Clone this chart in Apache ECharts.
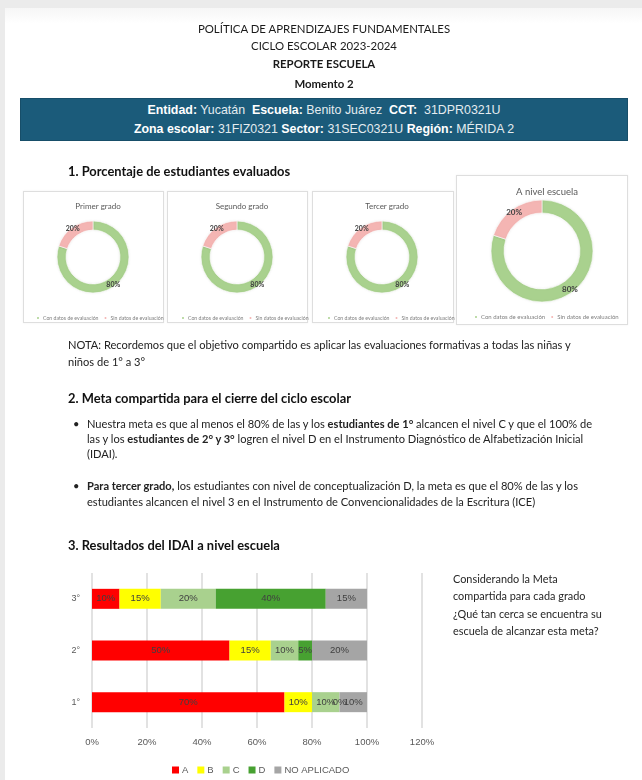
<!DOCTYPE html>
<html><head><meta charset="utf-8">
<script src="https://cdn.jsdelivr.net/npm/echarts@6/dist/echarts.min.js"></script>
<style>
html,body{margin:0;padding:0;}
body{width:642px;height:780px;overflow:hidden;background:#fff;position:relative;font-family:Lato,"Open Sans",sans-serif;color:#222;}
#topband{position:absolute;left:0;top:0;width:642px;height:8px;background:#ebebeb;}
#topfade{position:absolute;left:0;top:8px;width:642px;height:16px;background:linear-gradient(#f6f6f6,#fff);}
#leftstrip{position:absolute;left:0;top:0;width:5px;height:780px;background:#ebebeb;}
.hdr{position:absolute;left:20px;width:608px;text-align:center;font-size:11.4px;line-height:14px;color:#1a1a1a;}
#banner{position:absolute;left:20px;top:98px;width:608px;height:43px;background:#1b5b7a;box-sizing:border-box;border:1px solid #174e69;}
.bl{position:absolute;left:0;width:606px;text-align:center;font-family:"Liberation Sans",Arial,sans-serif;font-size:12.4px;line-height:14px;color:#e4ecf0;}
.bl b{color:#fff;}
.h{position:absolute;left:68px;font-weight:bold;font-size:12.9px;line-height:16px;color:#111;white-space:nowrap;}
.p{position:absolute;font-size:11.1px;line-height:14px;color:#222;white-space:nowrap;}
.box{position:absolute;border:1px solid #dedede;box-shadow:0 0 2px rgba(0,0,0,0.06);background:#fff;}
#chart{position:absolute;left:0;top:0;width:642px;height:780px;z-index:1;}
.txt{z-index:2;}
</style></head><body>
<div id="topband"></div><div id="topfade"></div><div id="leftstrip"></div>

<div class="hdr txt" style="top:22px;">POLÍTICA DE APRENDIZAJES FUNDAMENTALES</div>
<div class="hdr txt" style="top:39px;">CICLO ESCOLAR 2023-2024</div>
<div class="hdr txt" style="top:57px;font-weight:bold;">REPORTE ESCUELA</div>
<div class="hdr txt" style="top:77px;font-weight:bold;">Momento 2</div>

<div id="banner" class="txt">
  <div class="bl" style="top:4px;"><b>Entidad:</b> Yucatán&nbsp; <b>Escuela:</b> Benito Juárez&nbsp; <b>CCT:</b>&nbsp; 31DPR0321U</div>
  <div class="bl" style="top:23px;"><b>Zona escolar:</b> 31FIZ0321 <b>Sector:</b> 31SEC0321U <b>Región:</b> MÉRIDA 2</div>
</div>

<div class="h txt" style="top:163px;">1. Porcentaje de estudiantes evaluados</div>

<div class="box" style="left:23px;top:191px;width:139px;height:130px;"></div>
<div class="box" style="left:167px;top:191px;width:139px;height:130px;"></div>
<div class="box" style="left:312px;top:191px;width:140px;height:130px;"></div>
<div class="box" style="left:456px;top:175px;width:170px;height:148px;"></div>

<div class="p txt" style="left:68px;top:338px;">NOTA: Recordemos que el objetivo compartido es aplicar las evaluaciones formativas a todas las niñas y</div>
<div class="p txt" style="left:68px;top:355px;">niños de 1° a 3°</div>

<div class="h txt" style="top:390px;">2. Meta compartida para el cierre del ciclo escolar</div>

<div class="p txt" style="left:73px;top:417px;">•</div>
<div class="p txt" style="left:87px;top:417px;">Nuestra meta es que al menos el 80% de las y los <b>estudiantes de 1°</b> alcancen el nivel C y que el 100% de</div>
<div class="p txt" style="left:87px;top:432px;">las y los <b>estudiantes de 2° y 3°</b> logren el nivel D en el Instrumento Diagnóstico de Alfabetización Inicial</div>
<div class="p txt" style="left:87px;top:447px;">(IDAI).</div>

<div class="p txt" style="left:73px;top:479px;">•</div>
<div class="p txt" style="left:87px;top:479px;"><b>Para tercer grado,</b> los estudiantes con nivel de conceptualización D, la meta es que el 80% de las y los</div>
<div class="p txt" style="left:87px;top:495px;">estudiantes alcancen el nivel 3 en el Instrumento de Convencionalidades de la Escritura (ICE)</div>

<div class="h txt" style="top:537px;">3. Resultados del IDAI a nivel escuela</div>

<div class="p txt" style="left:453px;top:570px;font-size:10.9px;line-height:17.3px;color:#262626;">Considerando la Meta<br>compartida para cada grado<br>¿Qué tan cerca se encuentra su<br>escuela de alcanzar esta meta?</div>

<div id="chart"></div>
<script>
// ---- data ----
var categories = ['1°', '2°', '3°'];
var seriesNames = ['A', 'B', 'C', 'D', 'NO APLICADO'];
var valA = [70, 50, 10];
var valB = [10, 15, 15];
var valC = [10, 10, 20];
var valD = [0, 5, 40];
var valNA = [10, 20, 15];
var xMin = 0, xMax = 120, xInterval = 20;

var pieTitles = ['Primer grado', 'Segundo grado', 'Tercer grado', 'A nivel escuela'];
var pieNames = ['Con datos de evaluación', 'Sin datos de evaluación'];
var conDatos = [80, 80, 80, 80];
var sinDatos = [20, 20, 20, 20];

// ---- layout / style ----
var barColors = ['#ff0000', '#ffff00', '#a9d18e', '#47a131', '#a5a5a5'];
var pieColors = ['#a9d18e', '#f4b5b3'];
var pieLayout = [
  {c: [93, 257], r: [27, 36], titleY: 197, titleSize: 8, legX: 30, legY: 310, legSize: 5.2},
  {c: [237, 257], r: [27, 36], titleY: 197, titleSize: 8, legX: 175, legY: 310, legSize: 5.2},
  {c: [382, 257], r: [27, 36], titleY: 197, titleSize: 8, legX: 321, legY: 310, legSize: 5.2},
  {c: [542, 251], r: [38, 51], titleY: 182, titleSize: 9.5, legX: 468, legY: 309, legSize: 6}
];

var chart = echarts.init(document.getElementById('chart'), null, {renderer: 'canvas'});

var titles = [], legends = [], series = [];
pieTitles.forEach(function (t, i) {
  var L = pieLayout[i];
  titles.push({
    text: t, left: L.c[0], top: L.titleY, textAlign: 'center',
    textStyle: {fontFamily: 'Lato', fontSize: L.titleSize, fontWeight: 'normal', color: '#595959'}
  });
  legends.push({
    data: pieNames.map(function (n, j) { return {name: n, itemStyle: {color: pieColors[j]}}; }),
    left: L.legX, top: L.legY, orient: 'horizontal',
    icon: 'circle', itemWidth: 4, itemHeight: 4, itemGap: 4,
    selectedMode: false,
    textStyle: {fontFamily: 'Lato', fontSize: L.legSize, color: '#7f7f7f', padding: [0, 0, 0, -2]}
  });
  series.push({
    type: 'pie', center: L.c, radius: L.r, startAngle: 90, clockwise: true,
    silent: true, animation: false,
    color: pieColors,
    itemStyle: {borderColor: '#fff', borderWidth: 0.6, shadowBlur: 3, shadowColor: 'rgba(0,0,0,0.08)'},
    label: {show: true, position: 'inside', formatter: '{c}%', fontFamily: 'Lato',
      fontSize: i === 3 ? 8 : 7, fontWeight: 'bold', color: '#404040'},
    labelLine: {show: false},
    data: [
      {name: pieNames[0], value: conDatos[i]},
      {name: pieNames[1], value: sinDatos[i]}
    ]
  });
});

legends.push({
  data: seriesNames, left: 167, top: 760, orient: 'horizontal',
  icon: 'rect', itemWidth: 7, itemHeight: 7, itemGap: 9, selectedMode: false,
  textStyle: {fontFamily: 'Liberation Sans', fontSize: 9.5, color: '#595959', padding: [0, 0, 0, -2]}
});

var barVals = [valA, valB, valC, valD, valNA];
seriesNames.forEach(function (n, k) {
  series.push({
    type: 'bar', name: n, stack: 'total', data: barVals[k],
    xAxisIndex: 0, yAxisIndex: 0, barWidth: 20, animation: false,
    itemStyle: {color: barColors[k]},
    label: {show: true, position: 'inside', formatter: '{c}%', fontFamily: 'Liberation Sans',
      fontSize: 9.5, color: '#404040'}
  });
});

chart.setOption({
  animation: false,
  title: titles,
  legend: legends,
  grid: {left: 92, right: 220, top: 573, bottom: 52, containLabel: false},
  xAxis: {
    type: 'value', min: xMin, max: xMax, interval: xInterval,
    axisLabel: {formatter: '{value}%', color: '#595959', fontFamily: 'Liberation Sans', fontSize: 9.5, margin: 9},
    axisLine: {show: false}, axisTick: {show: false},
    splitLine: {show: true, lineStyle: {color: '#d9d9d9', width: 1.5}}
  },
  yAxis: {
    type: 'category', data: categories,
    axisLabel: {color: '#595959', fontFamily: 'Liberation Sans', fontSize: 9, margin: 12},
    axisLine: {show: false}, axisTick: {show: false}
  },
  series: series
});
</script>
</body></html>
